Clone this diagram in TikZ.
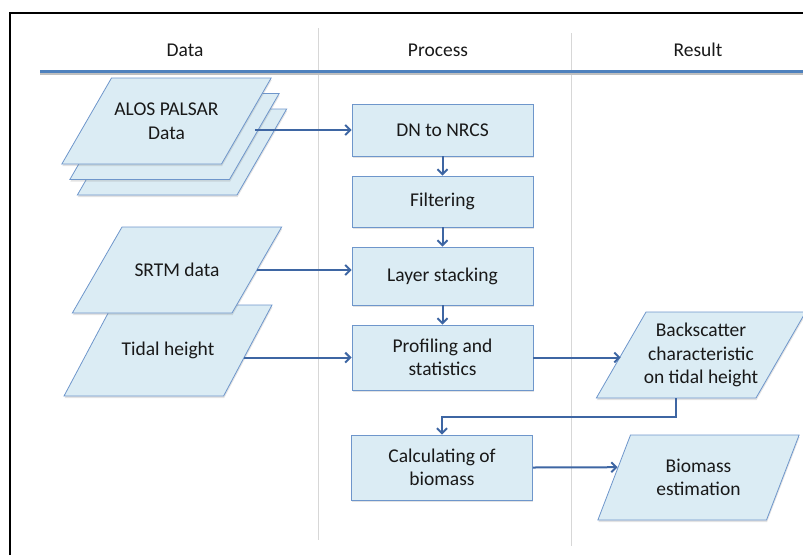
\documentclass[tikz,border=0pt]{standalone}
\usepackage{fontspec}
\setmainfont{Carlito}
\usepackage{xcolor}
\usetikzlibrary{shapes.geometric, arrows.meta, calc, shadows}

\definecolor{boxfill}{RGB}{219,236,244}
\definecolor{boxline}{RGB}{110,150,203}
\definecolor{flowline}{RGB}{62,102,163}
\definecolor{headline}{RGB}{79,129,189}
\definecolor{divider}{RGB}{215,215,215}
\definecolor{ink}{RGB}{25,25,25}

\tikzset{
  soft shadow/.style={drop shadow={opacity=0.22, shadow xshift=0.6pt, shadow yshift=-2pt}},
  % slanted data sheet: size comes from the inner seps, the text sits in a label
  databox/.style={trapezium, trapezium left angle=60, trapezium right angle=120,
    draw=boxline, fill=boxfill, line width=0.8pt, minimum size=0pt,
    inner xsep=55pt, inner ysep=43pt, soft shadow},
  datatext/.style={align=center},
  procbox/.style={rectangle, draw=boxline, fill=boxfill, line width=0.8pt,
    minimum width=181pt, inner sep=0pt, align=center, soft shadow},
  flow/.style={draw=flowline, line width=2pt, -{Straight Barb[length=5pt, width=10pt]}},
}

\begin{document}
\begin{tikzpicture}[x=1pt, y=-1pt,
    every node/.style={font=\fontsize{19.5}{23.5}\selectfont, text=ink}]
  \useasboundingbox (0,0) rectangle (803,555);

  % Frame
  \draw[line width=2pt] (10,555) -- (10,12.5) -- (803,12.5);

  % Column heads and dividers
  \node (hdata) at (185,50) {Data};
  \node (hproc) at (438,50) {Process};
  \node (hres) at (698,50) {Result};
  \draw[divider, line width=0.8pt] (318,28) -- (318,540);
  \draw[divider, line width=0.8pt] (571,33) -- (571,546);
  \draw[black!25, line width=2pt] (40,73.5) -- (803,73.5);
  \draw[headline, line width=2.4pt] (40,71.5) -- (803,71.5);

  % Data
  \node[databox] (alosback) at (182,152) {};
  \node[databox] (alosmid) at (174.5,136.5) {};
  \node[databox, label={[datatext]center:ALOS PALSAR\\Data}] (alos) at (166.5,121) {};
  \node[databox, inner ysep=45.5pt, inner xsep=55.6pt, trapezium left angle=62,
    trapezium right angle=118, label={[datatext]center:Tidal height}] (tidal) at (168,350.5) {};
  \node[databox, label={[datatext]center:SRTM data}] (srtm) at (177,270) {};

  % Process
  \node[procbox, minimum height=52pt] (dn) at (442.5,130) {DN to NRCS};
  \node[procbox, minimum height=51pt] (filter) at (442.5,201.5) {Filtering};
  \node[procbox, minimum height=58pt] (stack) at (442.5,276) {Layer stacking};
  \node[procbox, minimum height=65pt] (profile) at (442.5,357.5) {Profiling and\\statistics};
  \node[procbox, minimum height=65pt] (calc) at (442,467.5) {Calculating of\\biomass};

  % Result
  \node[databox, label={[datatext]center:Backscatter\\characteristic\\on tidal height}]
    (backsc) at (701,355) {};
  \node[databox, inner xsep=68pt, inner ysep=42.5pt, trapezium left angle=69,
    trapezium right angle=111, label={[datatext]center:Biomass\\estimation}]
    (biomass) at (698.5,477.5) {};

  % Connectors
  \coordinate (tidalout) at ($(tidal.top right corner)!0.577!(tidal.bottom right corner)$);
  \coordinate (biomassin) at ($(biomass.top left corner)!0.38!(biomass.bottom left corner)$);
  \coordinate (bsfoot) at ($(backsc.bottom left corner)!0.5!(backsc.bottom right corner)$);
  \draw[flow] (alosmid.east |- dn.west) -- (dn.west);
  \draw[flow] (dn) -- (filter);
  \draw[flow] (filter) -- (stack);
  \draw[flow] (srtm.east) -- (srtm.east -| stack.west);
  \draw[flow] (stack) -- (profile);
  \draw[flow] (tidalout) -- (tidalout -| profile.west);
  \draw[flow] (profile.east) -- (profile.east -| backsc.west);
  \draw[flow] (bsfoot) -- ++(0,19) -| (calc.north);
  \draw[flow] (calc.east) -- (biomassin);
\end{tikzpicture}
\end{document}
